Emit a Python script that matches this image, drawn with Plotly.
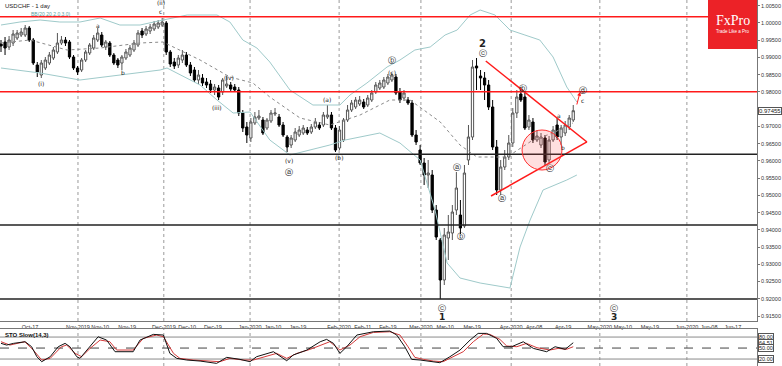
import plotly.graph_objects as go

# ---------------- data (bar index = trading day from 2019-10-07) ----------------
opens = [.99389,.99447,.99302,.99418,.99563,.99650,.99650,.99853,.99505,.98780,
         .98490,.98693,.98838,.98983,.99157,.99418,.99505,.99447,.99012,.98693,
         .98635,.98925,.99128,.99273,.99505,.99650,.99302,.99418,.99070,.98925,
         .98838,.98983,.99070,.99215,.99360,.99766,.99679,.99766,.99824,.99882,
         .99940,.99998,.99157,.98867,.98780,.98925,.99070,.98780,.98635,.98345,
         .98403,.98287,.98229,.98055,.98113,.97997,.98171,.98200,.98142,.98055,
         .97388,.96982,.96663,.97098,.97243,.97185,.96953,.97156,.97359,.97272,
         .97040,.96692,.96460,.96605,.96750,.96808,.96895,.96837,.96982,.97040,
         .97040,.97272,.97330,.96953,.96373,.96605,.97185,.97475,.97562,.97649,
         .97707,.97620,.97765,.97997,.98113,.98142,.98258,.98345,.98432,.97997,
         .97823,.97765,.97678,.96750,.96315,.95938,.95590,.95590,.94575,.93705,
         .92545,.93763,.93908,.94575,.94430,.94111,.96025,.96692,.98751,.98461,
         .98403,.98200,.97562,.96402,.95155,.95822,.96112,.96518,.97388,.97939,
         .97852,.96982,.97127,.96605,.96460,.96663,.96025,.96605,.97040,.96692,
         .96808,.96982,.97185]
highs = [.99505,.99592,.99621,.99795,.99795,.99853,.99940,.99911,.99563,.98867,
         .98925,.99012,.99157,.99302,.99708,.99621,.99592,.99505,.99070,.98751,
         .98983,.99215,.99418,.99650,.99853,.99737,.99505,.99476,.99128,.98983,
         .99070,.99244,.99360,.99505,.99795,.99853,.99911,.99969,1.00056,1.00085,
         1.00143,1.00056,.99215,.98983,.99070,.99215,.99157,.98867,.98722,.98635,
         .98519,.98403,.98345,.98229,.98200,.98403,.98461,.98287,.98229,.98142,
         .97475,.97127,.97243,.97417,.97475,.97272,.97243,.97475,.97533,.97359,
         .97127,.96750,.96750,.96953,.97011,.97040,.96982,.97069,.97243,.97127,
         .97417,.97620,.97417,.97040,.97011,.97243,.97620,.97765,.97852,.97881,
         .97794,.97910,.98055,.98287,.98345,.98432,.98519,.98548,.98519,.98113,
         .98055,.97852,.97765,.96895,.96460,.96083,.96025,.95735,.94720,.93763,
         .94053,.94430,.94720,.95677,.94865,.95880,.97040,.98925,.98983,.98635,
         .98577,.98345,.97765,.96605,.96025,.96315,.96750,.97533,.98055,.98142,
         .97997,.97330,.97243,.96895,.96808,.96750,.96721,.97011,.97243,.97040,
         .97156,.97330,.97620]
lows = [.99157,.99070,.99215,.99331,.99505,.99592,.99592,.99447,.98780,.98432,
        .98403,.98635,.98780,.98925,.99099,.99360,.99331,.98954,.98635,.98490,
        .98577,.98867,.99070,.99215,.99447,.99302,.99215,.99012,.98780,.98693,
        .98635,.98925,.99012,.99157,.99302,.99563,.99621,.99679,.99766,.99824,
        .99882,.99070,.98722,.98664,.98693,.98838,.98722,.98461,.98287,.98229,
        .98171,.98113,.97968,.97910,.97765,.97910,.98113,.98026,.97997,.97301,
        .96837,.96518,.96547,.97040,.97185,.96750,.96895,.97098,.97301,.96982,
        .96692,.96257,.96373,.96547,.96692,.96750,.96750,.96779,.96924,.96895,
        .96982,.97214,.96895,.96257,.96315,.96547,.97127,.97417,.97504,.97591,
        .97504,.97562,.97707,.97939,.98055,.98084,.98200,.98287,.97910,.97678,
        .97736,.97620,.96692,.96460,.95880,.95300,.95213,.94488,.93705,.91994,
        .92400,.93125,.93705,.94430,.93879,.94053,.95880,.96605,.98055,.98055,
        .97765,.97475,.96315,.95010,.95010,.95735,.96025,.96402,.97243,.97707,
        .96895,.96895,.96518,.96547,.96373,.95880,.95938,.96547,.96605,.96460,
        .96721,.96895,.97127]
closes = [.99331,.99273,.99505,.99679,.99708,.99737,.99853,.99505,.98838,.98577,
          .98838,.98925,.99070,.99215,.99418,.99505,.99418,.99012,.98693,.98577,
          .98925,.99157,.99360,.99563,.99708,.99360,.99447,.99070,.98838,.98780,
          .99012,.99157,.99273,.99418,.99708,.99650,.99824,.99882,.99969,.99998,
          1.00027,.99157,.98809,.98751,.98983,.99070,.98780,.98548,.98345,.98490,
          .98258,.98200,.98055,.98142,.97852,.98345,.98229,.98084,.98055,.97388,
          .96953,.96750,.97127,.97272,.97301,.96808,.97185,.97388,.97388,.97040,
          .96750,.96402,.96663,.96837,.96895,.96953,.96808,.96982,.97127,.96953,
          .97330,.97330,.96953,.96315,.96895,.97185,.97475,.97678,.97765,.97765,
          .97562,.97823,.97968,.98200,.98258,.98345,.98432,.98490,.97968,.97765,
          .97968,.97678,.96750,.96547,.95938,.95590,.95648,.94575,.93792,.92545,
          .93850,.93937,.94517,.95213,.94053,.95648,.96692,.98722,.98693,.98403,
          .98200,.97562,.96402,.95155,.95822,.96112,.96518,.97388,.97852,.97765,
          .96953,.97185,.96605,.96721,.96692,.95967,.96605,.96895,.96692,.96953,
          .97040,.97243,.97455]
bars = list(range(len(closes)))

# Bollinger bands (bar index, price)
bb_upper_x = [0, 4.7, 9.7, 14.6, 19.6, 24.6, 29.5, 34.5, 40.2, 46.2, 53.6, 56.8, 60.0, 63.5, 66.7,
              71.7, 77.4, 84.1, 86.6, 90.8, 95.8, 99.0, 102.7, 106.5, 110.2, 113.2, 116.4, 118.9,
              122.6, 126.3, 130.0, 133.7, 137.0, 140.4, 142.9]
bb_upper_y = [.99940, 1.00027, 1.00085, 1.00027, 1.00027, 1.00143, .99940, .99940, 1.00085, 1.00230,
              1.00230, 1.00027, .99505, .99273, .98867, .98055, .97620, .97620, .97910, .98258, .98722,
              .98925, .99215, .99302, .99650, .99795, 1.00230, 1.00375, 1.00230, .99795, .99650, .99505,
              .99012, .98142, .97707]
bb_lower_x = [0, 9.7, 19.6, 29.5, 39.5, 41.2, 49.4, 53.6, 57.6, 61.8, 66.7, 71.7, 76.7, 81.6, 85.4,
              89.1, 94.0, 99.0, 104.0, 107.7, 110.7, 113.9, 118.9, 126.3, 128.8, 131.3, 134.5, 140.4, 142.9]
bb_lower_y = [.98693, .98548, .98345, .98490, .98635, .98693, .98200, .97765, .97388, .97417, .96605,
              .96170, .96315, .96460, .96605, .96692, .96808, .96518, .96025, .94575, .93038, .92603,
              .92458, .92313, .93502, .94285, .95155, .95445, .95590]
bb_mid_x = [0, 7.2, 16.4, 24.6, 34.5, 40.2, 49.4, 56.8, 62.5, 66.7, 74.2, 81.6, 89.1, 96.5, 101.5,
            109.0, 113.9, 118.1, 125.6, 132.0, 137.0, 141.9]
bb_mid_y = [.99418, .99505, .99215, .99273, .99418, .99447, .98925, .98432, .98258, .97852, .97243,
            .97040, .97330, .97765, .97765, .97127, .96460, .96112, .96112, .96605, .96808, .97098]

# Stochastic slow (14,3)
sto_k_x = [0, 1.4, 3.1, 6, 7.6, 8.9, 10.1, 12.2, 14.2, 15.9, 17.1, 18.8, 19.6, 21.3, 24.1, 26.2, 28.3,
           32.8, 34.5, 37.8, 40.3, 41.9, 43.6, 46.1, 49.4, 53.5, 56, 59.3, 61.8, 63.4, 67.6, 70.9, 72.5,
           75.9, 79.2, 80.8, 82.5, 84.1, 85.8, 88.3, 92.4, 96.5, 98.2, 100.2, 101.9, 104, 106.5, 108.9,
           111.4, 113.9, 116.4, 118.4, 120.5, 123, 124.6, 126.7, 129.6, 132.1, 135.4, 137.5, 140, 142]
sto_k_y = [62.8, 58.2, 62.8, 67.2, 53.6, 26.3, 12.7, 26.3, 53.6, 62.8, 53.6, 26.3, 21.9, 44.5, 80.8,
           71.8, 40, 40, 71.8, 87.3, 85.5, 35.5, 21.9, 17.3, 14.5, 8.2, 24.6, 19.1, 12.7, 26.3, 40, 15.4,
           30.9, 44.5, 67.2, 73.7, 62.8, 35.5, 53.6, 85.5, 94.5, 96.4, 85.5, 53.6, 19.1, 17.3, 14.5, 10,
           26.3, 44.5, 71.8, 90, 90, 76.4, 53.6, 53.6, 67.2, 49.1, 40, 53.6, 46.5, 64.51]
sto_d_x = [0, 2.2, 5.9, 8.0, 10.1, 12.2, 15.0, 16.3, 18.4, 20.0, 22.1, 24.6, 27.0, 28.7, 32.8, 35.3,
           38.6, 40.3, 42.8, 44.4, 47.7, 51.0, 54.3, 56.8, 60.1, 62.6, 65.1, 68.4, 70.9, 73.4, 76.7,
           80.0, 81.6, 84.1, 86.6, 89.1, 92.4, 96.5, 99.0, 101.0, 102.7, 104.8, 107.3, 109.7, 112.2,
           114.7, 117.2, 119.7, 121.3, 123.8, 125.5, 128.0, 130.4, 133.0, 136.2, 138.3, 140.3, 142.0]
sto_d_y = [67.3, 58.2, 67.3, 44.6, 17.3, 21.8, 53.6, 58.2, 35.5, 26.4, 49.1, 71.8, 67.3, 44.6, 44.6,
           76.4, 85.5, 80.9, 35.5, 21.8, 17.3, 14.5, 12.7, 21.8, 17.3, 17.3, 24.6, 35.5, 21.8, 35.5, 46.4,
           60.9, 67.3, 44.6, 58.2, 80.9, 92.7, 94.5, 85.5, 53.6, 24.6, 19.1, 14.5, 12.7, 26.4, 40.0, 67.3,
           88.2, 87.3, 73.6, 55.5, 53.6, 62.7, 50.9, 44.6, 49.1, 46.4, 53.6]

# axis labels
price_ticks = [0.915, 0.92, 0.925, 0.93, 0.935, 0.94, 0.945, 0.95, 0.955, 0.96, 0.965, 0.97,
               0.975, 0.98, 0.985, 0.99, 0.995, 1.0, 1.005]
price_labels = ["0.91500", "0.92000", "0.92500", "0.93000", "0.93500", "0.94000", "0.94500",
                "0.95000", "0.95500", "0.96000", "0.96500", "0.97000", "", "0.98000",
                "0.98500", "0.99000", "0.99500", "1.00000", "1.00500"]
date_pos = [7.2, 19.1, 24.6, 31.3, 40.4, 46.2, 52.6, 61.8, 67.5, 73.7, 83.9, 89.8, 96.0, 104.2,
            110.2, 116.9, 126.6, 132.3, 139.5, 148.6, 154.3, 161.0, 170.2, 175.7, 181.6]
date_labels = ["Oct-17", "Nov-2019", "Nov-10", "Nov-19", "Dec-2019", "Dec-10", "Dec-19",
               "Jan-2020", "Jan-10", "Jan-19", "Feb-2020", "Feb-11", "Feb-19", "Mar-2020",
               "Mar-10", "Mar-19", "Apr-2020", "Apr-08", "Apr-19", "May-2020", "May-10",
               "May-19", "Jun-2020", "Jun-08", "Jun-17"]
month_starts = [19.1, 40.4, 61.8, 83.9, 104.2, 126.6, 148.6, 170.2]

red_levels = [1.00181, 0.98006]
black_levels = [0.9619, 0.9414, 0.91994]
tri_upper = ([120.3, 145.4], [0.98896, 0.96548])
tri_lower = ([121.6, 145.4], [0.94981, 0.96548])
last_price = 0.97455
sto_last = 64.51

# ---------------- figure ----------------
XR = [-0.25, 187.6]
YR = [0.91356, 1.00665]
XD = [0, 757 / 782]
MAIN_D = [1 - 321 / 366, 1]
STO_D = [0, 1 - 329 / 366]
FONT = "Liberation Sans, Arial, sans-serif"
LABF = "DejaVu Sans, sans-serif"

fig = go.Figure()
fig.add_trace(go.Scatter(x=bb_upper_x, y=bb_upper_y, mode="lines",
                         line=dict(color="#9fcaca", width=1), hoverinfo="skip"))
fig.add_trace(go.Scatter(x=bb_lower_x, y=bb_lower_y, mode="lines",
                         line=dict(color="#9fcaca", width=1), hoverinfo="skip"))
fig.add_trace(go.Scatter(x=bb_mid_x, y=bb_mid_y, mode="lines",
                         line=dict(color="#8a8a8a", width=1, dash="dot"), hoverinfo="skip"))
fig.add_trace(go.Candlestick(
    x=bars, open=opens, high=highs, low=lows, close=closes,
    increasing=dict(line=dict(color="#555555", width=1), fillcolor="white"),
    decreasing=dict(line=dict(color="#000000", width=1), fillcolor="#000000"),
    whiskerwidth=0, xaxis="x", yaxis="y"))
# triangle
fig.add_trace(go.Scatter(x=tri_upper[0], y=tri_upper[1], mode="lines",
                         line=dict(color="#ff1a1a", width=1.5), hoverinfo="skip"))
fig.add_trace(go.Scatter(x=tri_lower[0], y=tri_lower[1], mode="lines",
                         line=dict(color="#ff1a1a", width=1.5), hoverinfo="skip"))
# stochastic
fig.add_trace(go.Scatter(x=sto_d_x, y=sto_d_y, mode="lines", xaxis="x2", yaxis="y2",
                         line=dict(color="#d43a3a", width=1), hoverinfo="skip"))
fig.add_trace(go.Scatter(x=sto_k_x, y=sto_k_y, mode="lines", xaxis="x2", yaxis="y2",
                         line=dict(color="#111111", width=1), hoverinfo="skip"))

shapes = []
for lv in red_levels:
    shapes.append(dict(type="line", xref="x domain", x0=0, x1=1, yref="y", y0=lv, y1=lv,
                       line=dict(color="#ff1a1a", width=1.5)))
for lv in black_levels:
    shapes.append(dict(type="line", xref="x domain", x0=0, x1=1, yref="y", y0=lv, y1=lv,
                       line=dict(color="#222222", width=1.5)))
for m in month_starts:
    shapes.append(dict(type="line", xref="x", x0=m, x1=m, yref="y domain", y0=0, y1=1,
                       line=dict(color="#9a9a9a", width=1, dash="dot"), layer="below"))
    shapes.append(dict(type="line", xref="x2", x0=m, x1=m, yref="y2 domain", y0=0, y1=1,
                       line=dict(color="#9a9a9a", width=1, dash="dot"), layer="below"))
for lv, dash, col in [(80, "solid", "#8a8a8a"), (50, "dash", "#444444"), (20, "solid", "#8a8a8a")]:
    shapes.append(dict(type="line", xref="x2 domain", x0=0, x1=1, yref="y2", y0=lv, y1=lv,
                       line=dict(color=col, width=1, dash=dash), layer="below"))
# pink circle
shapes.append(dict(type="circle", xref="x", yref="y", x0=129.3, x1=139.2, y0=0.95735, y1=0.96895,
                   fillcolor="rgba(255,80,80,0.18)", line=dict(color="#ff3030", width=1)))
# FxPro logo box
shapes.append(dict(type="rect", xref="paper", yref="paper", x0=708 / 782, x1=757 / 782,
                   y0=1 - 49 / 366, y1=1, fillcolor="#ec2227", line=dict(width=0)))

ann = []
def lab(x, y, t, size=7, bold=False, color="#222222"):
    ann.append(dict(x=x, y=y, xref="x", yref="y", text=("<b>%s</b>" % t) if bold else t,
                    xanchor="center", yanchor="middle",
                    showarrow=False, font=dict(size=size, color=color, family=LABF)))

lab(9.9, 0.98258, "(i)", 6)
lab(24.1, 0.99940, "a", 6)
lab(30.3, 0.98577, "b", 6)
lab(39.7, 1.00607, "(ii)", 6)
lab(39.7, 1.00346, "c", 6)
lab(53.6, 0.97562, "(iii)", 6)
lab(56.6, 0.98432, "(iv)", 6)
lab(71.5, 0.96025, "(v)", 6)
lab(71.5, 0.95677, "ⓐ", 8)
lab(80.9, 0.97794, "(a)", 6)
lab(83.9, 0.96112, "(b)", 6)
lab(97.0, 0.98925, "ⓑ", 8)
lab(97.0, 0.98577, "(c)", 6)
lab(119.4, 0.99418, "2", 10, True)
lab(119.6, 0.99128, "ⓒ", 8)
lab(113.2, 0.95822, "ⓐ", 8)
lab(114.1, 0.93821, "ⓑ", 8)
lab(109.4, 0.91733, "ⓒ", 8)
lab(109.4, 0.91472, "1", 9, True)
lab(124.3, 0.94923, "ⓐ", 8)
lab(129.5, 0.98113, "ⓑ", 8)
lab(136.2, 0.95793, "ⓒ", 8)
lab(138.5, 0.97330, "a", 6)
lab(139.5, 0.96402, "b", 6)
lab(144.4, 0.98055, "ⓓ", 8)
lab(144.4, 0.97765, "c", 6)
lab(152.1, 0.91733, "ⓒ", 8)
lab(152.1, 0.91472, "3", 9, True)

# small red arrow on last bar
ann.append(dict(x=143.7, y=0.97997, ax=142.8, ay=0.97591, xref="x", yref="y", axref="x", ayref="y",
                text="", showarrow=True, arrowhead=2, arrowsize=0.8, arrowwidth=1, arrowcolor="#ff1a1a"))
# titles
ann.append(dict(x=3 / 782, y=1 - 1 / 366, xref="paper", yref="paper", xanchor="left", yanchor="top",
                text="USDCHF - 1 day", showarrow=False, font=dict(size=6, color="#222", family=FONT)))
ann.append(dict(x=29 / 782, y=1 - 9 / 366, xref="paper", yref="paper", xanchor="left", yanchor="top",
                text="BB(20,20,2.0,3.0)", showarrow=False, font=dict(size=5, color="#5aa0a0", family=FONT)))
ann.append(dict(x=3 / 782, y=1 - 330 / 366, xref="paper", yref="paper", xanchor="left", yanchor="top",
                text="<b>STO Slow(14,3)</b>", showarrow=False, font=dict(size=6, color="#111", family=FONT)))
# logo text
ann.append(dict(x=732.5 / 782, y=1 - 21 / 366, xref="paper", yref="paper", text="FxPro",
                xanchor="center", yanchor="middle",
                showarrow=False, font=dict(size=14, color="white", family="Liberation Serif, serif")))
ann.append(dict(x=732.5 / 782, y=1 - 32 / 366, xref="paper", yref="paper", text="Trade Like a Pro",
                xanchor="center", yanchor="middle",
                showarrow=False, font=dict(size=4.5, color="white", family=FONT)))
# price box
ann.append(dict(x=758 / 782, y=last_price, xref="paper", yref="y", xanchor="left", text="0.97455",
                showarrow=False, font=dict(size=6, color="#222", family=FONT),
                bordercolor="#555", borderwidth=1, borderpad=0, bgcolor="white"))
for v, t in [(80, "80.00"), (sto_last, "64.51"), (50, "50.00"), (20, "20.00")]:
    ann.append(dict(x=758 / 782, y=v, xref="paper", yref="y2", xanchor="left", text=t,
                    showarrow=False, font=dict(size=5.5, color="#222", family=FONT),
                    bordercolor="#555", borderwidth=1, borderpad=0, bgcolor="white"))

fig.update_layout(
    width=782, height=366, margin=dict(l=0, r=0, t=0, b=0),
    paper_bgcolor="white", plot_bgcolor="white", showlegend=False,
    shapes=shapes, annotations=ann, boxgap=0.2,
    xaxis=dict(domain=XD, range=XR, anchor="y", rangeslider=dict(visible=False),
               tickmode="array", tickvals=date_pos, ticktext=date_labels, tickangle=0,
               tickfont=dict(size=5.5, color="#333", family=FONT), ticks="", showgrid=False,
               zeroline=False, showline=True, linecolor="#777", linewidth=1),
    yaxis=dict(domain=MAIN_D, range=YR, side="right", anchor="x", tickmode="array",
               tickvals=price_ticks, ticktext=price_labels, ticks="outside", ticklen=2,
               tickcolor="#777", tickfont=dict(size=5.5, color="#333", family=FONT),
               showgrid=False, zeroline=False, showline=True, linecolor="#777", linewidth=1),
    xaxis2=dict(domain=XD, range=XR, anchor="y2", matches="x", showticklabels=False, ticks="",
                showgrid=False, zeroline=False, showline=True, linecolor="#777", mirror=True),
    yaxis2=dict(domain=STO_D, range=[1, 102], side="right", anchor="x2", showticklabels=False,
                ticks="", showgrid=False, zeroline=False, showline=True, linecolor="#777"),
)
fig.write_html("out.html", config={"displayModeBar": False},
               post_script="document.body.style.margin='0px';")
